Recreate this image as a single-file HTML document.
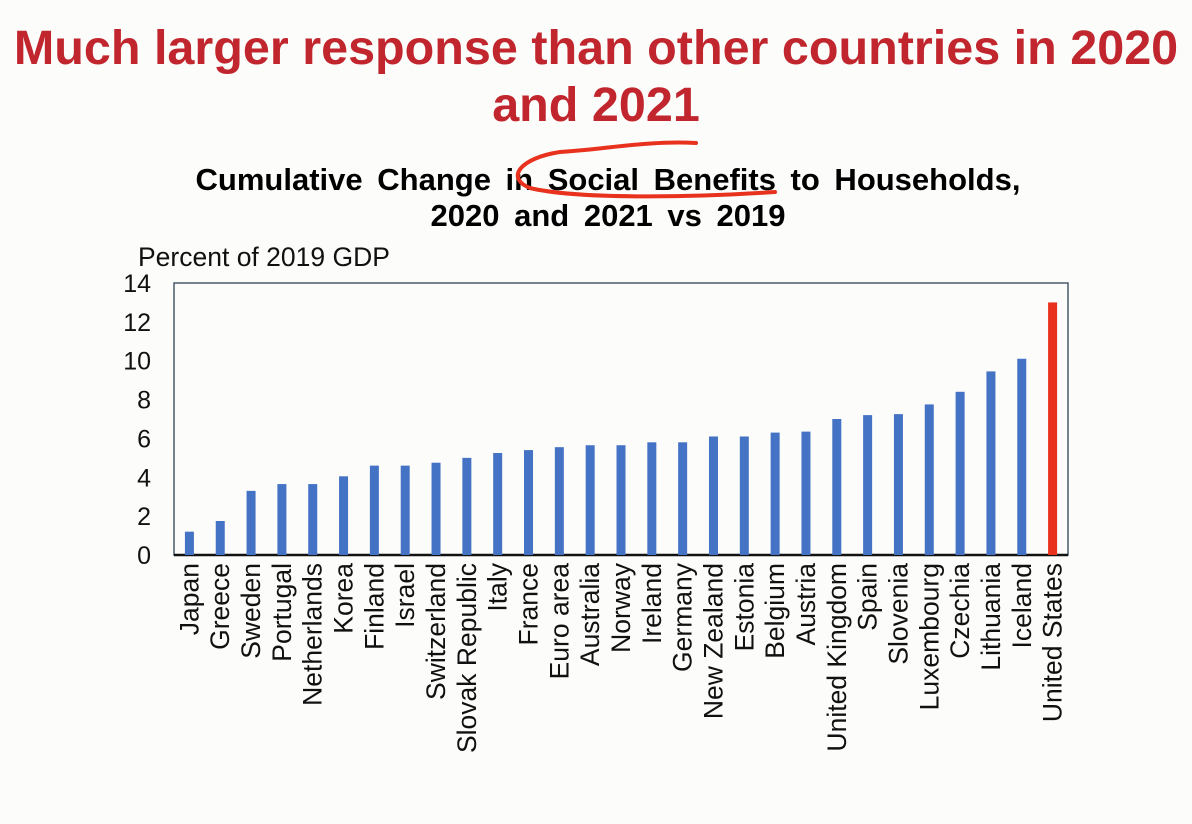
<!DOCTYPE html>
<html><head><meta charset="utf-8"><style>
body{margin:0;width:1192px;height:824px;background:#fcfcfa;font-family:"Liberation Sans",sans-serif;overflow:hidden;position:relative}
.h{position:absolute;left:0;width:1192px;text-align:center;color:#c1262e;font-weight:bold;font-size:48.5px;line-height:57px;top:20px;white-space:nowrap}
.t{position:absolute;left:0;width:1192px;text-align:center;font-weight:bold;font-size:31px;line-height:36px;top:162px;padding-left:12px;word-spacing:6px;white-space:nowrap}
</style></head><body>
<div class="h">Much larger response than other countries in 2020<br>and 2021</div>
<div class="t">Cumulative Change in Social Benefits to Households,<br>2020 and 2021 vs 2019</div>
<svg id="c" width="1192" height="824" style="position:absolute;left:0;top:0"></svg>
<script>
const categories=["Japan","Greece","Sweden","Portugal","Netherlands","Korea","Finland","Israel","Switzerland","Slovak Republic","Italy","France","Euro area","Australia","Norway","Ireland","Germany","New Zealand","Estonia","Belgium","Austria","United Kingdom","Spain","Slovenia","Luxembourg","Czechia","Lithuania","Iceland","United States"];
const values=[1.2,1.75,3.3,3.65,3.65,4.05,4.6,4.6,4.75,5.0,5.25,5.4,5.55,5.65,5.65,5.8,5.8,6.1,6.1,6.3,6.35,7.0,7.2,7.25,7.75,8.4,9.45,10.1,13.0];
const yTicks=[0,2,4,6,8,10,12,14];
const NS="http://www.w3.org/2000/svg";
const svg=document.getElementById('c');
const L=174,R=1068,T=283,B=555,yMax=14;
const y=v=>B-(v/yMax)*(B-T);
const step=(R-L)/categories.length;
const x=i=>L+step*(i+0.5)-13;
function mk(tag,a){const e=document.createElementNS(NS,tag);for(const k in a)e.setAttribute(k,a[k]);svg.appendChild(e);return e;}
const fr=mk('rect',{x:L,y:T,width:R-L,height:B-T,fill:'none',stroke:'#4a5a6a','stroke-width':1.5});


const ax=mk('line',{x1:L,x2:R,y1:B,y2:B,stroke:'#111','stroke-width':2.5});


const yt=mk('text',{x:138,y:266,'font-size':26.5,fill:'#111'});yt.textContent='Percent of 2019 GDP';


yTicks.forEach(v=>{const t=mk('text',{x:151,y:y(v)+9,'font-size':25,'text-anchor':'end',fill:'#111'});t.textContent=v;

});
categories.forEach((c,i)=>{
const cx=x(i)+13;
const b=mk('rect',{x:cx-4.5,y:y(values[i]),width:9,height:B-y(values[i]),fill:i==categories.length-1?'#e8321e':'#4472c4'});


const t=mk('text',{x:0,y:0,'font-size':26.5,'text-anchor':'end',fill:'#111',transform:`translate(${cx+9},563) rotate(-90)`});t.textContent=c;


});
const sw=mk('path',{d:'M696,143 C650,140 600,150 560,152 C520,158 505,178 530,188 C580,200 700,197 775,192',fill:'none',stroke:'#e8321e','stroke-width':4,'stroke-linecap':'round'});


</script>
</body></html>
